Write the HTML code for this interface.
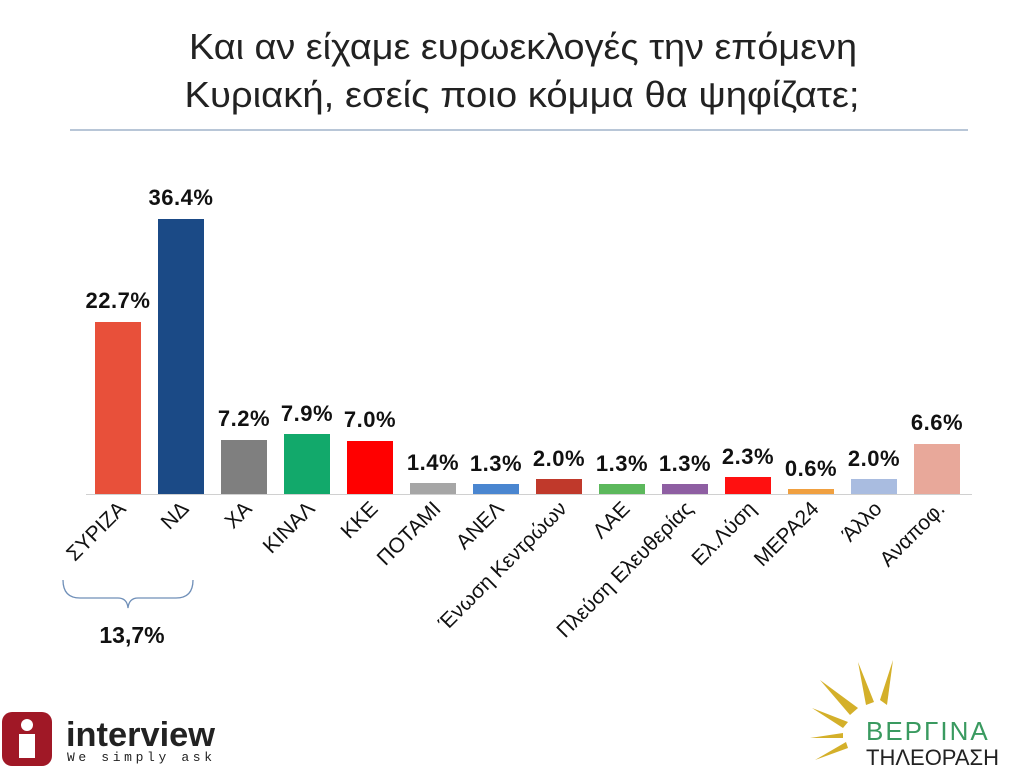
<!DOCTYPE html>
<html><head><meta charset="utf-8"><style>
body{margin:0;width:1024px;height:769px;background:#fff;overflow:hidden;font-family:"Liberation Sans","DejaVu Sans",sans-serif;}
</style></head><body>
<svg width="1024" height="769" xmlns="http://www.w3.org/2000/svg" font-family="Liberation Sans, DejaVu Sans, sans-serif">
<text x="523" y="59" font-size="36" text-anchor="middle" fill="#222" textLength="668" lengthAdjust="spacingAndGlyphs">Και αν είχαμε ευρωεκλογές την επόμενη</text>
<text x="522" y="107" font-size="36" text-anchor="middle" fill="#222" textLength="675" lengthAdjust="spacingAndGlyphs">Κυριακή, εσείς ποιο κόμμα θα ψηφίζατε;</text>
<line x1="70" y1="130" x2="968" y2="130" stroke="#8ea4bf" stroke-width="1.2"/>
<line x1="86" y1="494.5" x2="972" y2="494.5" stroke="#d0d0d0" stroke-width="1"/>
<g font-weight="bold" font-size="22" text-anchor="middle" fill="#111" letter-spacing="0.5">
<rect x="95" y="322" width="46" height="172" fill="#E8503A"/><text x="118" y="308">22.7%</text>
<rect x="158" y="219" width="46" height="275" fill="#1B4A86"/><text x="181" y="205">36.4%</text>
<rect x="221" y="440" width="46" height="54" fill="#7F7F7F"/><text x="244" y="426">7.2%</text>
<rect x="284" y="434" width="46" height="60" fill="#12A96B"/><text x="307" y="421">7.9%</text>
<rect x="347" y="441" width="46" height="53" fill="#FF0000"/><text x="370" y="427">7.0%</text>
<rect x="410" y="483" width="46" height="11" fill="#A6A6A6"/><text x="433" y="470">1.4%</text>
<rect x="473" y="484" width="46" height="10" fill="#4A86D0"/><text x="496" y="471">1.3%</text>
<rect x="536" y="479" width="46" height="15" fill="#C0392B"/><text x="559" y="466">2.0%</text>
<rect x="599" y="484" width="46" height="10" fill="#5CB85C"/><text x="622" y="471">1.3%</text>
<rect x="662" y="484" width="46" height="10" fill="#8E5EA2"/><text x="685" y="471">1.3%</text>
<rect x="725" y="477" width="46" height="17" fill="#FF1010"/><text x="748" y="464">2.3%</text>
<rect x="788" y="489" width="46" height="5" fill="#F0A040"/><text x="811" y="476">0.6%</text>
<rect x="851" y="479" width="46" height="15" fill="#A9BCE0"/><text x="874" y="466">2.0%</text>
<rect x="914" y="444" width="46" height="50" fill="#E8A89A"/><text x="937" y="430">6.6%</text>
</g>
<g font-size="21" text-anchor="end" fill="#111">
<text transform="translate(127,510) rotate(-45)">ΣΥΡΙΖΑ</text>
<text transform="translate(190,510) rotate(-45)">ΝΔ</text>
<text transform="translate(253,510) rotate(-45)">ΧΑ</text>
<text transform="translate(316,510) rotate(-45)">ΚΙΝΑΛ</text>
<text transform="translate(379,510) rotate(-45)">ΚΚΕ</text>
<text transform="translate(442,510) rotate(-45)">ΠΟΤΑΜΙ</text>
<text transform="translate(505,510) rotate(-45)">ΑΝΕΛ</text>
<text transform="translate(568,510) rotate(-45)">Ένωση Κεντρώων</text>
<text transform="translate(631,510) rotate(-45)">ΛΑΕ</text>
<text transform="translate(694,510) rotate(-45)">Πλεύση Ελευθερίας</text>
<text transform="translate(757,510) rotate(-45)">Ελ.Λύση</text>
<text transform="translate(820,510) rotate(-45)">ΜΕΡΑ24</text>
<text transform="translate(883,510) rotate(-45)">Άλλο</text>
<text transform="translate(946,510) rotate(-45)">Αναποφ.</text>
</g>
<path d="M63,580 Q63,598 80,598 L118,598 Q127,598 128,608 Q129,598 138,598 L176,598 Q193,598 193,580" fill="none" stroke="#6f8fb8" stroke-width="1.3"/>
<text x="132" y="643" font-size="23" font-weight="bold" text-anchor="middle" fill="#111">13,7%</text>
<rect x="2" y="712" width="50" height="54" rx="10" fill="#A01826"/>
<circle cx="27" cy="725" r="6" fill="#fff"/>
<rect x="19" y="734" width="16" height="24" fill="#fff"/>
<text x="66" y="746" font-size="34" font-weight="bold" fill="#222" textLength="149" lengthAdjust="spacingAndGlyphs">interview</text>
<text x="67" y="761" font-size="13" font-family="Liberation Mono, monospace" fill="#222" textLength="145">We simply ask</text>
<g fill="#d4b02a">
<path d="M880,700 L893,660 L887,705 Z"/><path d="M866,705 L858,662 L874,702 Z"/>
<path d="M850,715 L820,680 L858,708 Z"/><path d="M843,728 L812,708 L848,722 Z"/>
<path d="M843,738 L810,738 L843,733 Z"/><path d="M848,748 L815,760 L846,742 Z"/>
</g>
<text x="866" y="740" font-size="26" fill="#3a9a60" letter-spacing="2">ΒΕΡΓΙΝΑ</text>
<text x="866" y="765" font-size="22" fill="#222">ΤΗΛΕΟΡΑΣΗ</text>
</svg>
</body></html>
